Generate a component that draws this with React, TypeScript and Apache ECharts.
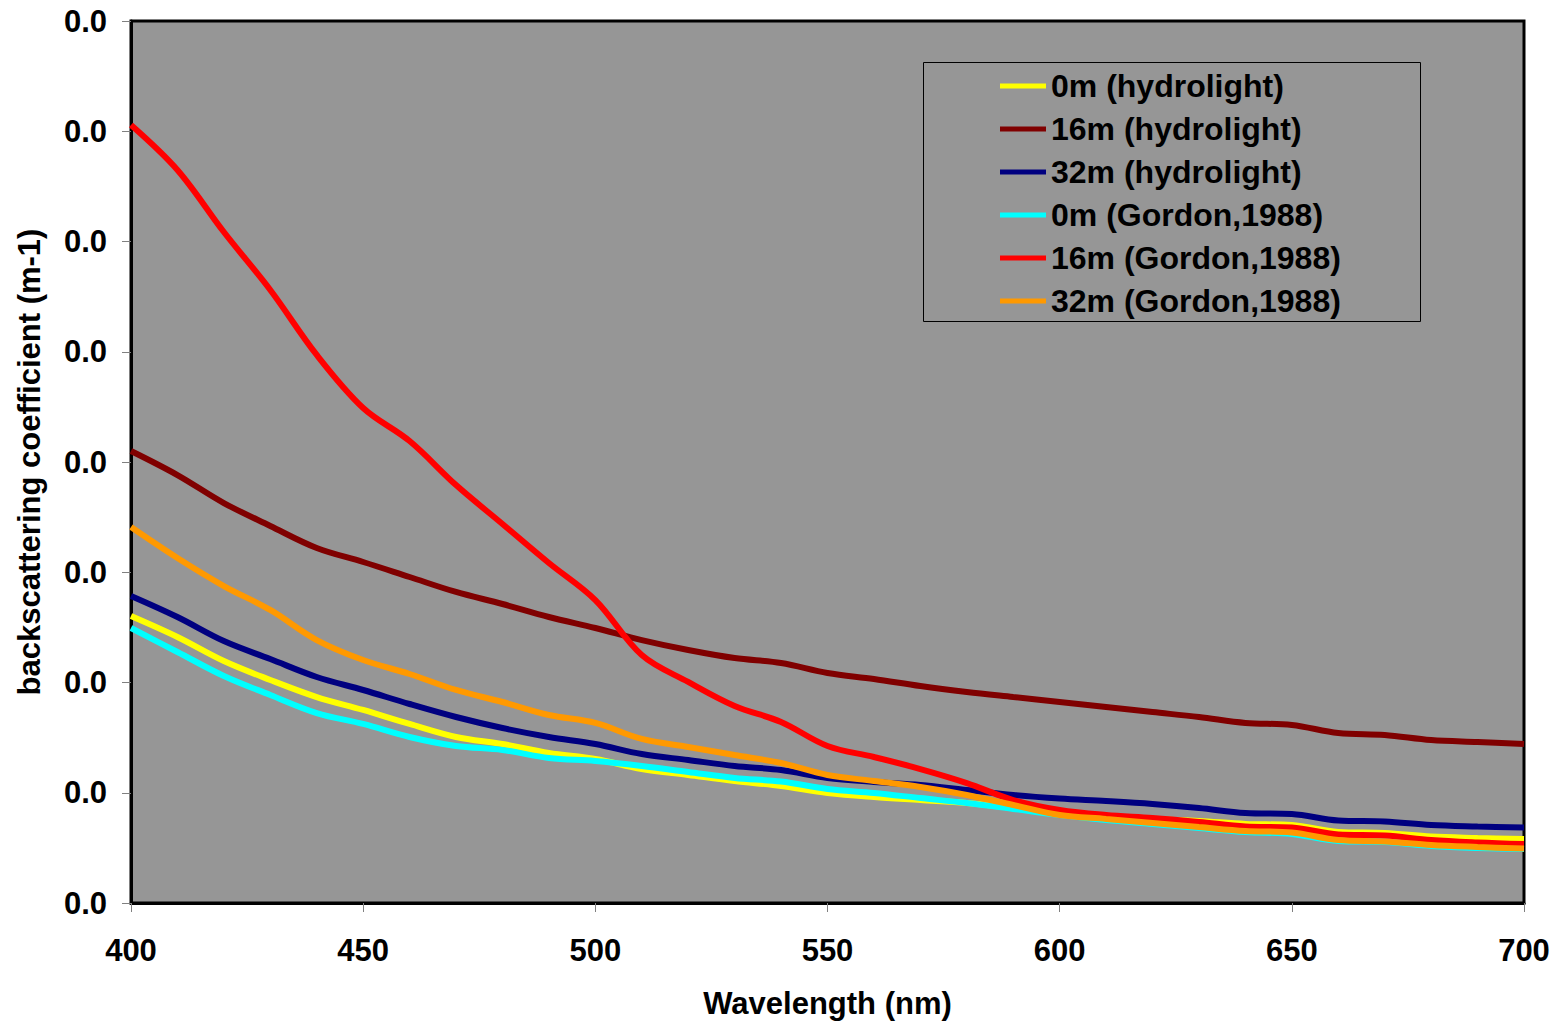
import React, { useEffect, useRef } from "react";
import * as echarts from "echarts";

const wavelengths = [400, 410, 420, 430, 440, 450, 460, 470, 480, 490, 500, 510, 520, 530, 540, 550, 560, 570, 580, 590, 600, 610, 620, 630, 640, 650, 660, 670, 680, 690, 700];

const seriesNames = ["0m (hydrolight)", "16m (hydrolight)", "32m (hydrolight)", "0m (Gordon,1988)", "16m (Gordon,1988)", "32m (Gordon,1988)"];
const seriesColors = ["#FFFF00", "#800000", "#000080", "#00FFFF", "#FF0000", "#FF9900"];

// values in m-1
const hydro0m = [0.002603, 0.002413, 0.002195, 0.002023, 0.001868, 0.001751, 0.001624, 0.001506, 0.001442, 0.001361, 0.001306, 0.001215, 0.001161, 0.001107, 0.001061, 0.000998, 0.000961, 0.000934, 0.000907, 0.000862, 0.000816, 0.000789, 0.000762, 0.000744, 0.000717, 0.000707, 0.000644, 0.000635, 0.000603, 0.00059, 0.00058];
const hydro16m = [0.0041, 0.003882, 0.003628, 0.00342, 0.00322, 0.003093, 0.002957, 0.002821, 0.002712, 0.002594, 0.002494, 0.002385, 0.002295, 0.002222, 0.002177, 0.002086, 0.002032, 0.001968, 0.001914, 0.001868, 0.001823, 0.001778, 0.001732, 0.001687, 0.001633, 0.001615, 0.001542, 0.001524, 0.001478, 0.00146, 0.001442];
const hydro32m = [0.002785, 0.002594, 0.002376, 0.002213, 0.00205, 0.001932, 0.001805, 0.001687, 0.001587, 0.001506, 0.001442, 0.001351, 0.001297, 0.001243, 0.001206, 0.001134, 0.001098, 0.00107, 0.001025, 0.00098, 0.000948, 0.000925, 0.000898, 0.000862, 0.000816, 0.000807, 0.000748, 0.000739, 0.000707, 0.000694, 0.000685];
const gordon0m = [0.002494, 0.002277, 0.002059, 0.001887, 0.001723, 0.001624, 0.001506, 0.001424, 0.001388, 0.001315, 0.001288, 0.001243, 0.001188, 0.001134, 0.001102, 0.001034, 0.000998, 0.000952, 0.000907, 0.000853, 0.000798, 0.000753, 0.000717, 0.00068, 0.000644, 0.000626, 0.000562, 0.000553, 0.000517, 0.000499, 0.00049];
const gordon16m = [0.007057, 0.006649, 0.006086, 0.00556, 0.004971, 0.00449, 0.00419, 0.003791, 0.003438, 0.003084, 0.002748, 0.002249, 0.002005, 0.001787, 0.001642, 0.001424, 0.001324, 0.001215, 0.001088, 0.000934, 0.000844, 0.000798, 0.000771, 0.000735, 0.000694, 0.000685, 0.000621, 0.000612, 0.000571, 0.000549, 0.000535];
const gordon32m = [0.00341, 0.003129, 0.002875, 0.002658, 0.002385, 0.002204, 0.002077, 0.001932, 0.001823, 0.001705, 0.001633, 0.001488, 0.001415, 0.001342, 0.00127, 0.001161, 0.001107, 0.001052, 0.00098, 0.000889, 0.000798, 0.000762, 0.000726, 0.000689, 0.000653, 0.000639, 0.000571, 0.000558, 0.000526, 0.000508, 0.000494];

const allSeries = [hydro0m, hydro16m, hydro32m, gordon0m, gordon16m, gordon32m];

const xTitle = "Wavelength (nm)";
const yTitle = "backscattering coefficient (m-1)";

const FONT = "'Liberation Sans', Arial, sans-serif";

export default function App() {
  const ref = useRef<HTMLDivElement>(null);
  useEffect(() => {
    if (!ref.current) return;
    const chart = echarts.init(ref.current, null, { renderer: "svg" });
    const option = {
      animation: false,
      backgroundColor: "#ffffff",
      textStyle: { fontFamily: FONT },
      grid: {
        left: 131,
        top: 21,
        right: 38,
        bottom: 123,
        show: true,
        backgroundColor: "#969696",
        borderColor: "#000000",
        borderWidth: 3,
      },
      graphic: [
        {
          type: "rect",
          left: 923,
          top: 62,
          shape: { width: 497, height: 259 },
          style: { fill: "#969696", stroke: "#000000", lineWidth: 1 },
          z: 5,
        },
      ],
      legend: {
        orient: "vertical",
        left: 1000,
        top: 70,
        itemWidth: 46,
        itemHeight: 5,
        itemGap: 11,
        icon: "rect",
        padding: 0,
        z: 10,
        data: seriesNames,
        textStyle: {
          fontFamily: FONT,
          fontSize: 32,
          fontWeight: "bold",
          color: "#000000",
          lineHeight: 32,
        },
      },
      xAxis: {
        type: "value",
        min: 400,
        max: 700,
        interval: 50,
        name: xTitle,
        nameLocation: "middle",
        nameGap: 85,
        nameTextStyle: { fontFamily: FONT, fontSize: 31, fontWeight: "bold", color: "#000000" },
        axisLine: { show: true, lineStyle: { color: "#000000", width: 3 } },
        axisTick: { show: true, length: 9, lineStyle: { color: "#808080", width: 1 } },
        axisLabel: { margin: 32, fontFamily: FONT, fontSize: 31, fontWeight: "bold", color: "#000000" },
        splitLine: { show: false },
      },
      yAxis: {
        type: "value",
        min: 0,
        max: 0.008,
        interval: 0.001,
        name: yTitle,
        nameLocation: "middle",
        nameGap: 86,
        nameTextStyle: { fontFamily: FONT, fontSize: 31, fontWeight: "bold", color: "#000000" },
        axisLine: { show: true, lineStyle: { color: "#000000", width: 3 } },
        axisTick: { show: true, length: 9, lineStyle: { color: "#808080", width: 1 } },
        axisLabel: {
          margin: 24,
          fontFamily: FONT,
          fontSize: 31,
          fontWeight: "bold",
          color: "#000000",
          formatter: (v: number) => v.toFixed(1),
        },
        splitLine: { show: false },
      },
      series: allSeries.map((vals, i) => ({
        name: seriesNames[i],
        type: "line",
        data: wavelengths.map((w, j) => [w, vals[j]]),
        smooth: 0.35,
        showSymbol: false,
        symbol: "none",
        lineStyle: { color: seriesColors[i], width: 6 },
        itemStyle: { color: seriesColors[i] },
        z: 2 + i,
      })),
    };
    chart.setOption(option as any);
    return () => chart.dispose();
  }, []);
  return (
    <div
      ref={ref}
      style={{ position: "fixed", left: 0, top: 0, width: 1562, height: 1026 }}
    />
  );
}
